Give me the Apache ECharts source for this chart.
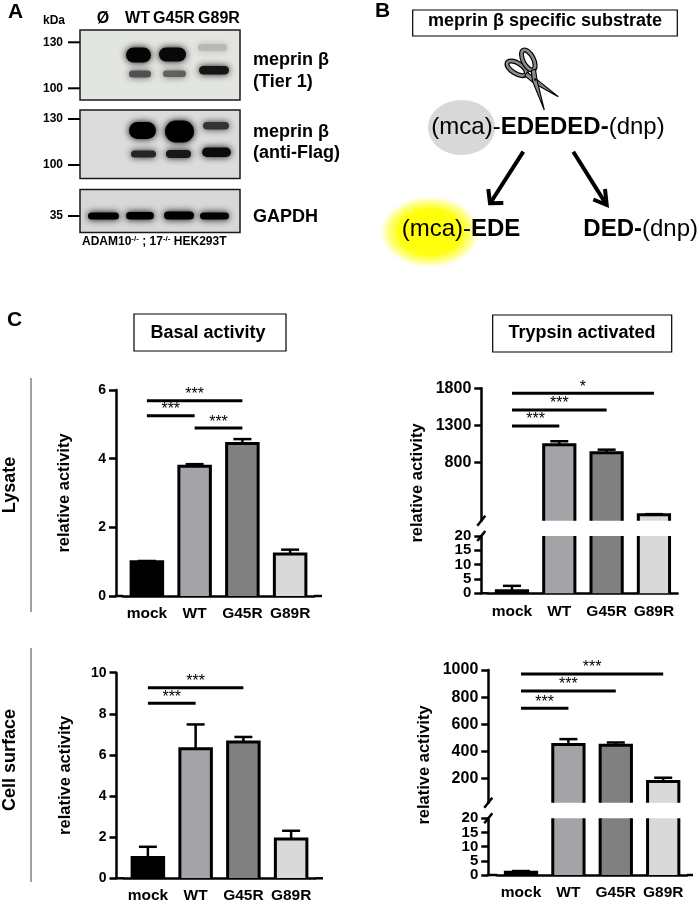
<!DOCTYPE html>
<html>
<head>
<meta charset="utf-8">
<title>meprin β activity</title>
<script src="https://cdn.jsdelivr.net/npm/echarts@6.0.0/dist/echarts.min.js"></script>
<style>
html, body { margin: 0; padding: 0; background: #fff; }
#main { width: 699px; height: 904px; }
</style>
</head>
<body>
<div id="main"></div>
<script>
// values
var categories = ['mock', 'WT', 'G45R', 'G89R'];
var barColors = ['#000000', '#a3a3a8', '#808080', '#d9d9d9'];

var lysateBasal = [1.0, 3.78, 4.44, 1.22];
var lysateBasalErr = [1.02, 3.84, 4.57, 1.35];
var lysateTrypsin = [0.9, 1040, 935, 100];
var lysateTrypsinErr = [2.6, 1088, 975, 108];
var surfaceBasal = [1.0, 6.3, 6.62, 1.9];
var surfaceBasalErr = [1.52, 7.48, 6.87, 2.3];
var surfaceTrypsin = [1.0, 450, 445, 178];
var surfaceTrypsinErr = [1.4, 490, 465, 205];

// significance bars: [from category, to category, height, stars]
var lysateBasalSig = [[0, 2, 5.69, '***'], [0, 1, 5.25, '***'], [1, 2, 4.89, '***']];
var lysateTrypsinSig = [[0, 3, 1733, '*'], [0, 2, 1508, '***'], [0, 1, 1293, '***']];
var surfaceBasalSig = [[0, 2, 9.27, '***'], [0, 1, 8.51, '***']];
var surfaceTrypsinSig = [[0, 3, 970, '***'], [0, 2, 845, '***'], [0, 1, 717, '***']];

// tick labels of the broken axes
var lysateTrypsinTicks = [800, 1300, 1800];
var surfaceTrypsinTicks = [200, 400, 600, 800, 1000];
var lowerTicksMain = [0, 10, 20];
var lowerTicksMid = [5, 15];

var FONT = '"Liberation Sans", Arial, Helvetica, sans-serif';

// grid boxes (px)
var grids = [
  { left: 123, top: 390, width: 191, height: 206, offset: 7, axisEnd: 322, fs: 14 },
  { left: 488.3, top: 388.3, width: 189.3, height: 132.4, offset: 7, fs: 16 },
  { left: 488.3, top: 536, width: 189.3, height: 57.3, offset: 7, axisEnd: 672, fs: 15 },
  { left: 124, top: 672.7, width: 191, height: 205.6, offset: 7.5, axisEnd: 323, fs: 14 },
  { left: 497.3, top: 670, width: 189.6, height: 132.8, offset: 9, fs: 16 },
  { left: 497.3, top: 818.3, width: 189.6, height: 56.7, offset: 9, axisEnd: 693, fs: 15 }
];

function barItem(params, api) {
  var cs = params.coordSys;
  var i = api.value(0);
  var bottom = cs.y + cs.height;
  var cx = api.coord([i, 0])[0];
  var w = api.size([1, 0])[0] * 0.66;
  var top = api.coord([i, api.value(1)])[1];
  if (top >= bottom) return;
  var cut = top < cs.y;
  if (cut) top = cs.y;
  var x0 = cx - w / 2, x1 = cx + w / 2;
  var line = { stroke: '#000', lineWidth: 3, fill: null, lineJoin: 'miter' };
  var kids = [{ type: 'rect', shape: { x: x0, y: top, width: w, height: bottom - top }, style: { fill: barColors[params.dataIndex] } }];
  if (cut) {
    kids.push({ type: 'line', shape: { x1: x0, y1: top, x2: x0, y2: bottom }, style: line });
    kids.push({ type: 'line', shape: { x1: x1, y1: top, x2: x1, y2: bottom }, style: line });
  } else {
    kids.push({ type: 'polyline', shape: { points: [[x0, bottom], [x0, top], [x1, top], [x1, bottom]] }, style: line });
  }
  return { type: 'group', children: kids };
}

function errItem(params, api) {
  var cs = params.coordSys;
  var i = api.value(0);
  var p0 = api.coord([i, api.value(1)]);
  var p1 = api.coord([i, api.value(2)]);
  if (p0[1] < cs.y || p1[1] > cs.y + cs.height) return;
  var st = { stroke: '#000', lineWidth: 2.5 };
  return {
    type: 'group',
    children: [
      { type: 'line', shape: { x1: p0[0], y1: p0[1], x2: p1[0], y2: p1[1] }, style: st },
      { type: 'line', shape: { x1: p1[0] - 9, y1: p1[1], x2: p1[0] + 9, y2: p1[1] }, style: st }
    ]
  };
}

function sigItem(sig) {
  return function (params, api) {
    var p0 = api.coord([api.value(0), api.value(2)]);
    var p1 = api.coord([api.value(1), api.value(2)]);
    return {
      type: 'group',
      children: [
        { type: 'line', shape: { x1: p0[0], y1: p0[1], x2: p1[0], y2: p1[1] }, style: { stroke: '#000', lineWidth: 3 } },
        { type: 'text', x: (p0[0] + p1[0]) / 2, y: p0[1] - 6,
          style: { text: sig[params.dataIndex][3], font: '16px ' + FONT, fill: '#000', align: 'center', verticalAlign: 'middle' } }
      ]
    };
  };
}

function barSeries(g, vals) {
  return { type: 'custom', xAxisIndex: g, yAxisIndex: g, z: 2, renderItem: barItem,
    data: vals.map(function (v, i) { return [i, v]; }) };
}
function errSeries(g, vals, errs) {
  return { type: 'custom', xAxisIndex: g, yAxisIndex: g, z: 3, renderItem: errItem,
    data: vals.map(function (v, i) { return [i, v, errs[i]]; }) };
}
function sigSeries(g, sig) {
  return { type: 'custom', xAxisIndex: g, yAxisIndex: g, z: 4, renderItem: sigItem(sig),
    data: sig.map(function (s) { return [s[0], s[1], s[2]]; }) };
}

var lineSt = { color: '#000', width: 2.5 };

function xAx(g, show) {
  return {
    type: 'category', gridIndex: g, data: categories, show: show,
    axisLine: { lineStyle: lineSt },
    axisTick: { alignWithLabel: true, interval: 0, length: 7, lineStyle: lineSt },
    axisLabel: { interval: 0, margin: 10, color: '#000', fontWeight: 'bold', fontSize: 15.5, fontFamily: FONT }
  };
}
function yAx(g, min, max, interval, custom, name, noLine) {
  var a = {
    type: 'value', gridIndex: g, position: 'left', min: min, max: max, offset: grids[g].offset,
    axisLine: { show: !noLine, lineStyle: lineSt },
    axisTick: { show: true, length: 7, lineStyle: lineSt },
    axisLabel: { margin: 10, showMinLabel: true, showMaxLabel: true,
      color: '#000', fontWeight: 'bold', fontSize: grids[g].fs, lineHeight: 12, fontFamily: FONT,
      formatter: function (v) { return String(v); } },
    splitLine: { show: false }
  };
  if (interval) a.interval = interval;
  if (custom) {
    a.axisTick.customValues = custom;
    a.axisLabel.customValues = custom;
  }
  if (name) {
    a.name = name;
    a.nameLocation = 'middle';
    a.nameGap = 43;
    a.nameTextStyle = { color: '#000', fontWeight: 'bold', fontSize: 16.5, fontFamily: FONT };
  }
  return a;
}

// ---- decorations: western blot, substrate scheme, frames ----
var g = [];
function txt(x, y, s, font, align, vAlign, rot) {
  g.push({ type: 'text', x: x, y: y, rotation: rot || 0,
    style: { text: s, font: font, fill: '#000', align: align || 'left', verticalAlign: vAlign || 'middle' } });
}
function seg(x1, y1, x2, y2, w, c) {
  g.push({ type: 'line', shape: { x1: x1, y1: y1, x2: x2, y2: y2 }, style: { stroke: c || '#000', lineWidth: w } });
}
var B = 'bold ';

// panel letters
txt(8, 12, 'A', B + '21px ' + FONT);
txt(375, 11, 'B', B + '21px ' + FONT);
txt(7, 320, 'C', B + '21px ' + FONT);

// blot panels
var blotPanels = [
  { y: 30, h: 70, bg: '#e3e5e0' },
  { y: 110, h: 68.5, bg: '#dcdcdc' },
  { y: 189.5, h: 43, bg: '#d8d8d8' }
];
blotPanels.forEach(function (p) {
  g.push({ type: 'rect', shape: { x: 80, y: p.y, width: 160, height: p.h }, style: { fill: p.bg, stroke: '#1a1a1a', lineWidth: 1.5 } });
});
var blotBands = [
  [126, 47.5, 25, 15, '#050505'], [159, 47.5, 27, 14, '#080808'], [198, 44, 29, 7, '#b8b8b8'],
  [129, 70.5, 22, 7, '#505050'], [163, 70.5, 23, 6.5, '#606060'], [199, 66, 30, 8.5, '#151515'],
  [129, 122, 27, 17, '#000'], [165, 120.5, 29, 22, '#000'], [203, 122, 26, 7.5, '#333'],
  [131, 150.5, 25, 7, '#252525'], [166, 150, 25, 8, '#181818'], [202, 147.5, 29, 9.5, '#0a0a0a'],
  [88, 212.5, 31, 7, '#000'], [126, 212, 28, 7.5, '#000'], [164, 211.5, 30, 8, '#000'], [200, 212.5, 29, 7, '#000']
];
blotBands.forEach(function (b) {
  g.push({ type: 'rect', shape: { x: b[0], y: b[1], width: b[2], height: b[3], r: b[3] / 2 },
    style: { fill: b[4], shadowBlur: 7, shadowColor: b[4] } });
});
// marker ticks
[[42.3, '130'], [88.3, '100'], [119, '130'], [165, '100'], [216, '35']].forEach(function (m) {
  seg(68, m[0], 80, m[0], 2);
  txt(63, m[0], m[1], B + '12px ' + FONT, 'right');
});
txt(54, 21, 'kDa', B + '12px ' + FONT, 'center');
txt(103, 18.5, 'Ø', B + '16px ' + FONT, 'center');
txt(137.5, 18.5, 'WT', B + '16px ' + FONT, 'center');
txt(174, 18.5, 'G45R', B + '16px ' + FONT, 'center');
txt(219, 18.5, 'G89R', B + '16px ' + FONT, 'center');
txt(253, 60, 'meprin β', B + '18px ' + FONT);
txt(253, 82, '(Tier 1)', B + '18px ' + FONT);
txt(253, 131.7, 'meprin β', B + '18px ' + FONT);
txt(253, 153.3, '(anti-Flag)', B + '18px ' + FONT);
txt(253, 216.7, 'GAPDH', B + '18px ' + FONT);
g.push({ type: 'text', x: 82, y: 242,
  style: { text: '{b|ADAM10}{s|-/-}{b| ; 17}{s|-/-}{b| HEK293T}', align: 'left', verticalAlign: 'middle',
    rich: { b: { font: B + '12px ' + FONT, fill: '#000' }, s: { font: B + '8px ' + FONT, fill: '#000', verticalAlign: 'top', lineHeight: 14 } } } });

// panel B
g.push({ type: 'rect', shape: { x: 412.7, y: 10, width: 264.6, height: 26 }, style: { fill: '#fff', stroke: '#000', lineWidth: 1.2 } });
txt(545, 21.5, 'meprin β specific substrate', B + '18px ' + FONT, 'center');
g.push({ type: 'ellipse', shape: { cx: 461.5, cy: 127.5, rx: 33.5, ry: 27.5 }, style: { fill: '#d8d8d8' } });
g.push({ type: 'circle', shape: { cx: 0, cy: 0, r: 37 }, x: 430, y: 232, scaleX: 1.4,
  style: { fill: { type: 'radial', x: 0.5, y: 0.5, r: 0.5,
    colorStops: [{ offset: 0, color: '#ffff00' }, { offset: 0.62, color: '#ffff12' }, { offset: 0.85, color: 'rgba(255,255,70,0.5)' }, { offset: 1, color: 'rgba(255,255,255,0)' }] } } });
var richB = { a: { font: '24px ' + FONT, fill: '#000' }, b: { font: B + '24px ' + FONT, fill: '#000' } };
g.push({ type: 'text', x: 548, y: 127, style: { text: '{a|(mca)-}{b|EDEDED-}{a|(dnp)}', align: 'center', verticalAlign: 'middle', rich: richB } });
g.push({ type: 'text', x: 401.7, y: 229, style: { text: '{a|(mca)-}{b|EDE}', align: 'left', verticalAlign: 'middle', rich: richB } });
g.push({ type: 'text', x: 698, y: 229, style: { text: '{b|DED-}{a|(dnp)}', align: 'right', verticalAlign: 'middle', rich: richB } });
// arrows
var arrowSt = { stroke: '#000', lineWidth: 4, fill: null, lineJoin: 'miter', lineCap: 'butt' };
g.push({ type: 'line', shape: { x1: 523.3, y1: 151.7, x2: 491, y2: 202 }, style: arrowSt });
g.push({ type: 'polyline', shape: { points: [[488.3, 189], [490, 203.3], [503.3, 203]] }, style: arrowSt });
g.push({ type: 'line', shape: { x1: 573.3, y1: 151.7, x2: 606, y2: 204 }, style: arrowSt });
g.push({ type: 'polyline', shape: { points: [[605, 189], [606.7, 205], [593.3, 199.5]] }, style: arrowSt });
// scissors
[[516.7, 68.3, -0.56], [528.3, 60, -1.1]].forEach(function (l) {
  g.push({ type: 'ellipse', shape: { cx: 0, cy: 0, rx: 11, ry: 5.2 }, x: l[0], y: l[1], rotation: l[2], style: { fill: null, stroke: '#000', lineWidth: 5 } });
  g.push({ type: 'ellipse', shape: { cx: 0, cy: 0, rx: 11, ry: 5.2 }, x: l[0], y: l[1], rotation: l[2], style: { fill: null, stroke: '#8a8a8a', lineWidth: 2.6 } });
});
function blade(s, t, piv) {
  var dx = t[0] - s[0], dy = t[1] - s[1], L = Math.sqrt(dx * dx + dy * dy);
  var nx = -dy / L, ny = dx / L;
  return [[s[0] + nx * 2.2, s[1] + ny * 2.2], [piv[0] + nx * 3, piv[1] + ny * 3], t, [piv[0] - nx * 1.6, piv[1] - ny * 1.6], [s[0] - nx * 2.2, s[1] - ny * 2.2]];
}
g.push({ type: 'polygon', shape: { points: blade([526, 74.1], [558.3, 96.7], [535.5, 80.5]) }, style: { fill: '#8a8a8a', stroke: '#000', lineWidth: 1.1 } });
g.push({ type: 'polygon', shape: { points: blade([533.3, 69.8], [544.3, 110], [535.5, 80.5]) }, style: { fill: '#8a8a8a', stroke: '#000', lineWidth: 1.1 } });
g.push({ type: 'circle', shape: { cx: 535.3, cy: 79.5, r: 1.3 }, style: { fill: '#000' } });

// panel C frames and side labels
g.push({ type: 'rect', shape: { x: 134, y: 314, width: 152, height: 37 }, style: { fill: '#fff', stroke: '#000', lineWidth: 1.2 } });
txt(208, 333, 'Basal activity', B + '18px ' + FONT, 'center');
g.push({ type: 'rect', shape: { x: 492.7, y: 315, width: 179, height: 37 }, style: { fill: '#fff', stroke: '#000', lineWidth: 1.2 } });
txt(582, 333.5, 'Trypsin activated', B + '18px ' + FONT, 'center');
seg(31, 378, 31, 612, 1, '#444');
seg(31, 648, 31, 882, 1, '#444');
txt(10, 485, 'Lysate', B + '18px ' + FONT, 'center', 'middle', Math.PI / 2);
txt(10, 760, 'Cell surface', B + '18px ' + FONT, 'center', 'middle', Math.PI / 2);
txt(417, 483, 'relative activity', B + '16.5px ' + FONT, 'center', 'middle', Math.PI / 2);
txt(424, 765, 'relative activity', B + '16.5px ' + FONT, 'center', 'middle', Math.PI / 2);

// x axis lines reaching the y axis, break marks
grids.forEach(function (gr) {
  if (!gr.axisEnd) return;
  var yb = gr.top + gr.height;
  seg(gr.left - gr.offset - 1.2, yb, gr.left, yb, 2.5);
  if (gr.axisEnd > gr.left + gr.width) seg(gr.left + gr.width, yb, gr.axisEnd, yb, 2.5);
});
[[1, 2], [4, 5]].forEach(function (pair) {
  var up = grids[pair[0]], lo = grids[pair[1]];
  var ax = up.left - up.offset;
  var yu = up.top + up.height, yl = lo.top;
  seg(ax - 4, yu + 5, ax + 4, yu - 5, 2.5);
  seg(ax - 4, yl + 5, ax + 4, yl - 5, 2.5);
});

var option = {
  animation: false,
  backgroundColor: '#fff',
  grid: grids.map(function (gr) { return { left: gr.left, top: gr.top, width: gr.width, height: gr.height }; }),
  xAxis: [xAx(0, true), xAx(1, false), xAx(2, true), xAx(3, true), xAx(4, false), xAx(5, true)],
  yAxis: [
    yAx(0, 0, 6, 2, null, 'relative activity'),
    yAx(1, 20, 1800, null, lysateTrypsinTicks),
    yAx(2, 0, 20, null, lowerTicksMain),
    yAx(3, 0, 10, 2, null, 'relative activity'),
    yAx(4, 20, 1000, null, surfaceTrypsinTicks),
    yAx(5, 0, 20, null, lowerTicksMain),
    // in-between ticks of the lower segments
    yAx(2, 0, 20, null, lowerTicksMid, null, true),
    yAx(5, 0, 20, null, lowerTicksMid, null, true)
  ],
  series: [
    barSeries(0, lysateBasal), errSeries(0, lysateBasal, lysateBasalErr), sigSeries(0, lysateBasalSig),
    barSeries(1, lysateTrypsin), errSeries(1, lysateTrypsin, lysateTrypsinErr), sigSeries(1, lysateTrypsinSig),
    barSeries(2, lysateTrypsin), errSeries(2, lysateTrypsin, lysateTrypsinErr),
    barSeries(3, surfaceBasal), errSeries(3, surfaceBasal, surfaceBasalErr), sigSeries(3, surfaceBasalSig),
    barSeries(4, surfaceTrypsin), errSeries(4, surfaceTrypsin, surfaceTrypsinErr), sigSeries(4, surfaceTrypsinSig),
    barSeries(5, surfaceTrypsin), errSeries(5, surfaceTrypsin, surfaceTrypsinErr)
  ],
  graphic: g
};

var chart = echarts.init(document.getElementById('main'));
chart.setOption(option);
</script>
</body>
</html>
